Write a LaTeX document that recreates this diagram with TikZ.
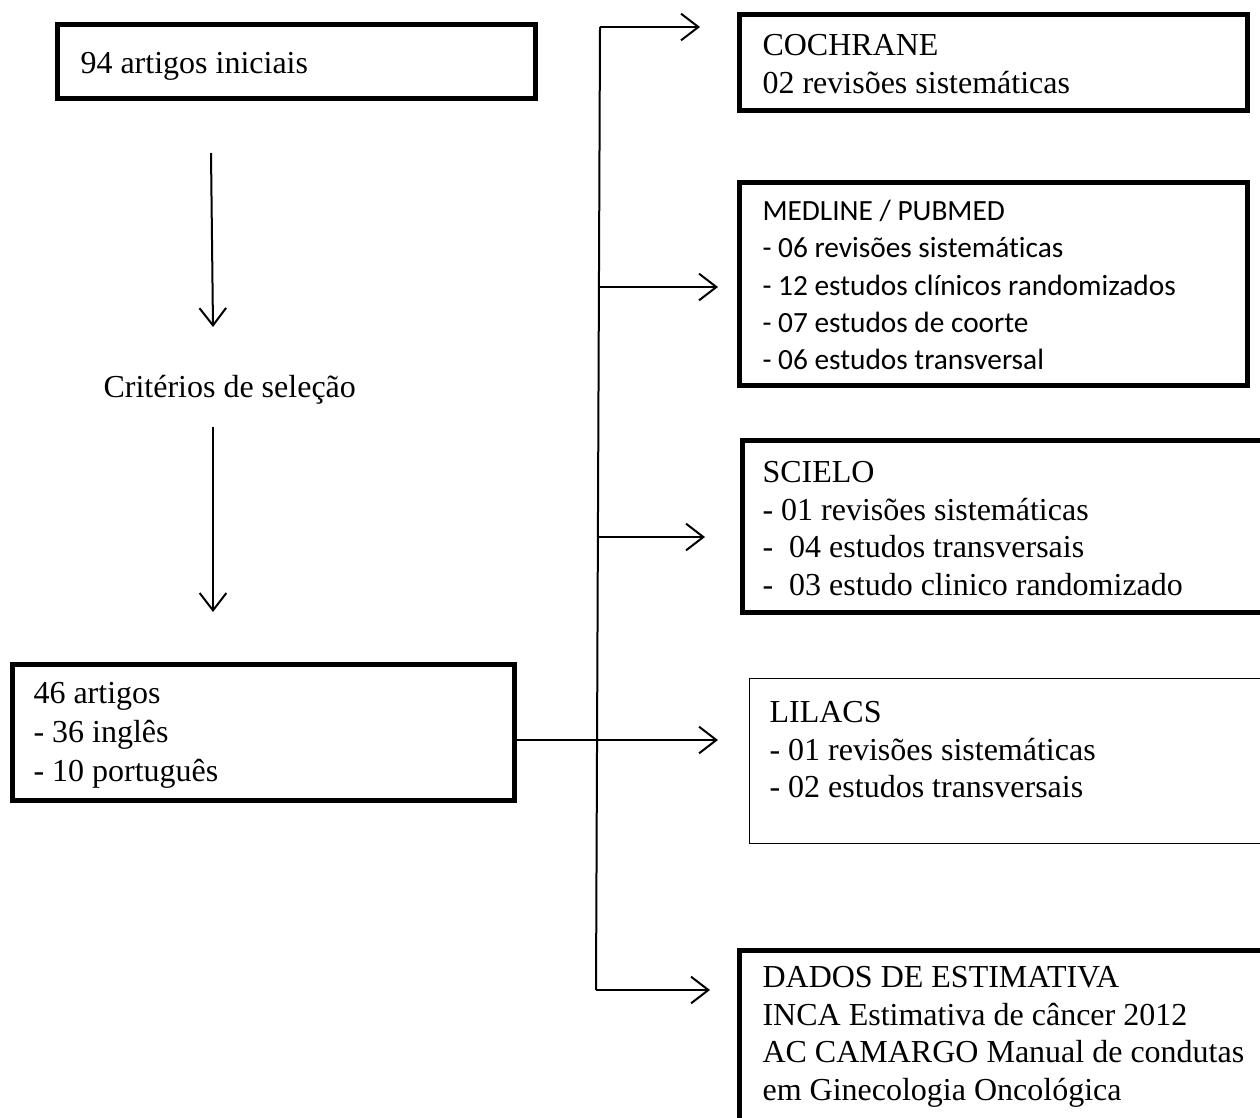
\documentclass[tikz,border=0pt]{standalone}
\usepackage{fontspec}
\setmainfont{Liberation Serif}
\newfontfamily\calibfont[RawFeature={-liga;-clig;-calt;-dlig}]{Carlito}
\usetikzlibrary{arrows.meta}

\begin{document}
\begin{tikzpicture}[x=0.375pt, y=-0.375pt,
    thickbox/.style={draw, rectangle, line width=1.8pt, inner sep=0pt, anchor=north west},
    thinbox/.style={draw, rectangle, line width=0.5pt, inner sep=0pt, anchor=north west},
    boxtext/.style={anchor=north west, inner sep=0pt, align=left, font=\fontsize{12}{14.1}\selectfont},
    line/.style={line width=0.75pt},
    conn/.style={line width=0.75pt, -{Straight Barb[length=6.5pt, width=10pt]}}]

    % Fix the page size and cut what runs over the edge
    \useasboundingbox (0,0) rectangle (1260,1117);
    \clip (0,0) rectangle (1260,1117);

    % Left column
    \node[thickbox, minimum width=179.25pt, minimum height=27.75pt] (iniciais) at (55,22) {};
    \node[boxtext] (iniciaisTxt) at (80,52) {94 artigos iniciais};

    \node[boxtext] (criterios) at (103,375) {Critérios de seleção};

    \node[thickbox, minimum width=188.25pt, minimum height=51pt] (artigos) at (10,662) {};
    \node[boxtext, font=\fontsize{12}{14.6}\selectfont] (artigosTxt) at (33,682)
        {46 artigos\\- 36 inglês\\- 10 português};

    % Arrows down the left column
    \coordinate (a1s) at (211,153);
    \coordinate (a1e) at (213,327);
    \coordinate (a2s) at (213,427);
    \coordinate (a2e) at (213,612);
    \draw[conn] (a1s) -- (a1e);
    \draw[conn] (a2s) -- (a2e);

    % Right column boxes
    \node[thickbox, minimum width=190.5pt, minimum height=36pt] (cochrane) at (737,12) {};
    \node[boxtext] (cochraneTxt) at (762,34) {COCHRANE\\02 revisões sistemáticas};

    \node[thickbox, minimum width=190.5pt, minimum height=76.1pt] (medline) at (737,180) {};
    \node[boxtext, font=\calibfont\fontsize{11}{13.9}\selectfont] (medlineTxt) at (762,200)
        {MEDLINE / PUBMED\\- 06 revisões sistemáticas\\- 12 estudos clínicos randomizados\\- 07 estudos de coorte\\- 06 estudos transversal};

    \node[thickbox, minimum width=198.75pt, minimum height=64.5pt] (scielo) at (740,438) {};
    \node[boxtext] (scieloTxt) at (762,461)
        {SCIELO\\- 01 revisões sistemáticas\\-\ \ 04 estudos transversais\\-\ \ 03 estudo clinico randomizado};

    \node[thinbox, minimum width=195.4pt, minimum height=61.9pt] (lilacs) at (749,678) {};
    \node[boxtext] (lilacsTxt) at (769,701)
        {LILACS\\- 01 revisões sistemáticas\\- 02 estudos transversais};

    \node[thickbox, minimum width=199.9pt, minimum height=75pt] (dados) at (737,948) {};
    \node[boxtext] (dadosTxt) at (762,966)
        {DADOS DE ESTIMATIVA\\INCA Estimativa de câncer 2012\\AC CAMARGO Manual de condutas\\em Ginecologia Oncológica};

    % Trunk and branches
    \coordinate (j1) at (600,27);
    \coordinate (j2) at (599,287);
    \coordinate (j3) at (598,537);
    \coordinate (j4) at (597,740);
    \coordinate (j5) at (596,990);
    \coordinate (t1) at (700,27);
    \coordinate (t2) at (718,287);
    \coordinate (t3) at (705,537);
    \coordinate (t4) at (718,740);
    \coordinate (t5) at (710,990);

    \draw[line] (j1) -- (j5);
    \draw[line] (artigos.east |- j4) -- (j4);
    \draw[conn] (j1) -- (t1);
    \draw[conn] (j2) -- (t2);
    \draw[conn] (j3) -- (t3);
    \draw[conn] (j4) -- (t4);
    \draw[conn] (j5) -- (t5);

\end{tikzpicture}
\end{document}
